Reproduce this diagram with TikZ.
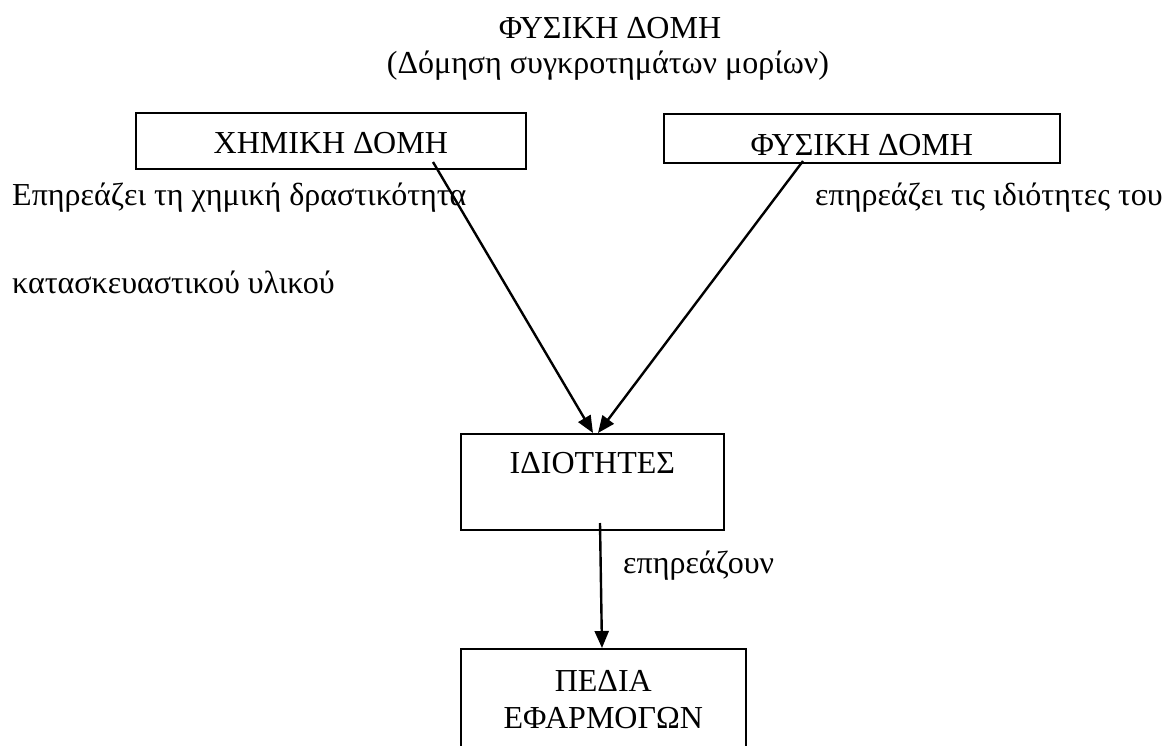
\documentclass[tikz,border=0pt]{standalone}
\usepackage{fontspec}
\setmainfont{Liberation Serif}
\usetikzlibrary{arrows.meta}
\begin{document}
\begin{tikzpicture}[x=1pt,y=-1pt,
  box/.style={draw, line width=1.6pt, inner sep=0pt, anchor=north west, align=center, font=\fontsize{32}{37}\selectfont},
  txt/.style={inner sep=0pt, font=\fontsize{32}{37}\selectfont},
  conn/.style={line width=2.4pt, -{Triangle[length=17pt,width=14pt]}}]
\useasboundingbox (0,0) rectangle (1163,745);
\node[txt, anchor=base] (title) at (610,38) {ΦΥΣΙΚΗ ΔΟΜΗ};
\node[txt, anchor=base] (sub) at (608,73) {(Δόμηση συγκροτημάτων μορίων)};
\node[box, minimum width=390pt, text height=41pt, text depth=15pt] (chem) at (135,112) {ΧΗΜΙΚΗ ΔΟΜΗ};
\node[box, minimum width=396pt, text height=42pt, text depth=7pt] (phys) at (663,113) {ΦΥΣΙΚΗ ΔΟΜΗ};
\node[box, minimum width=263pt, text height=40pt, text depth=56pt] (props) at (460,433) {ΙΔΙΟΤΗΤΕΣ};
\node[box, text width=285pt] (fields) at (460,648) {\rule{0pt}{43pt}ΠΕΔΙΑ\\ΕΦΑΡΜΟΓΩΝ\rule[-42pt]{0pt}{42pt}};
\node[txt, anchor=base west] (l1) at (12,205) {Επηρεάζει τη χημική δραστικότητα};
\node[txt, anchor=base west] (l2) at (12,293) {κατασκευαστικού υλικού};
\node[txt, anchor=base west] (l3) at (815,205) {επηρεάζει τις ιδιότητες του};
\node[txt, anchor=base west] (l4) at (623,573) {επηρεάζουν};
\coordinate (s1) at (433,162);
\coordinate (t1) at (593,433);
\coordinate (s2) at (803,161);
\coordinate (t2) at (598,433);
\coordinate (s3) at (600,523);
\coordinate (t3) at (602,648);
\draw[conn] (s1) -- (t1);
\draw[conn] (s2) -- (t2);
\draw[conn] (s3) -- (t3);
\end{tikzpicture}
\end{document}
